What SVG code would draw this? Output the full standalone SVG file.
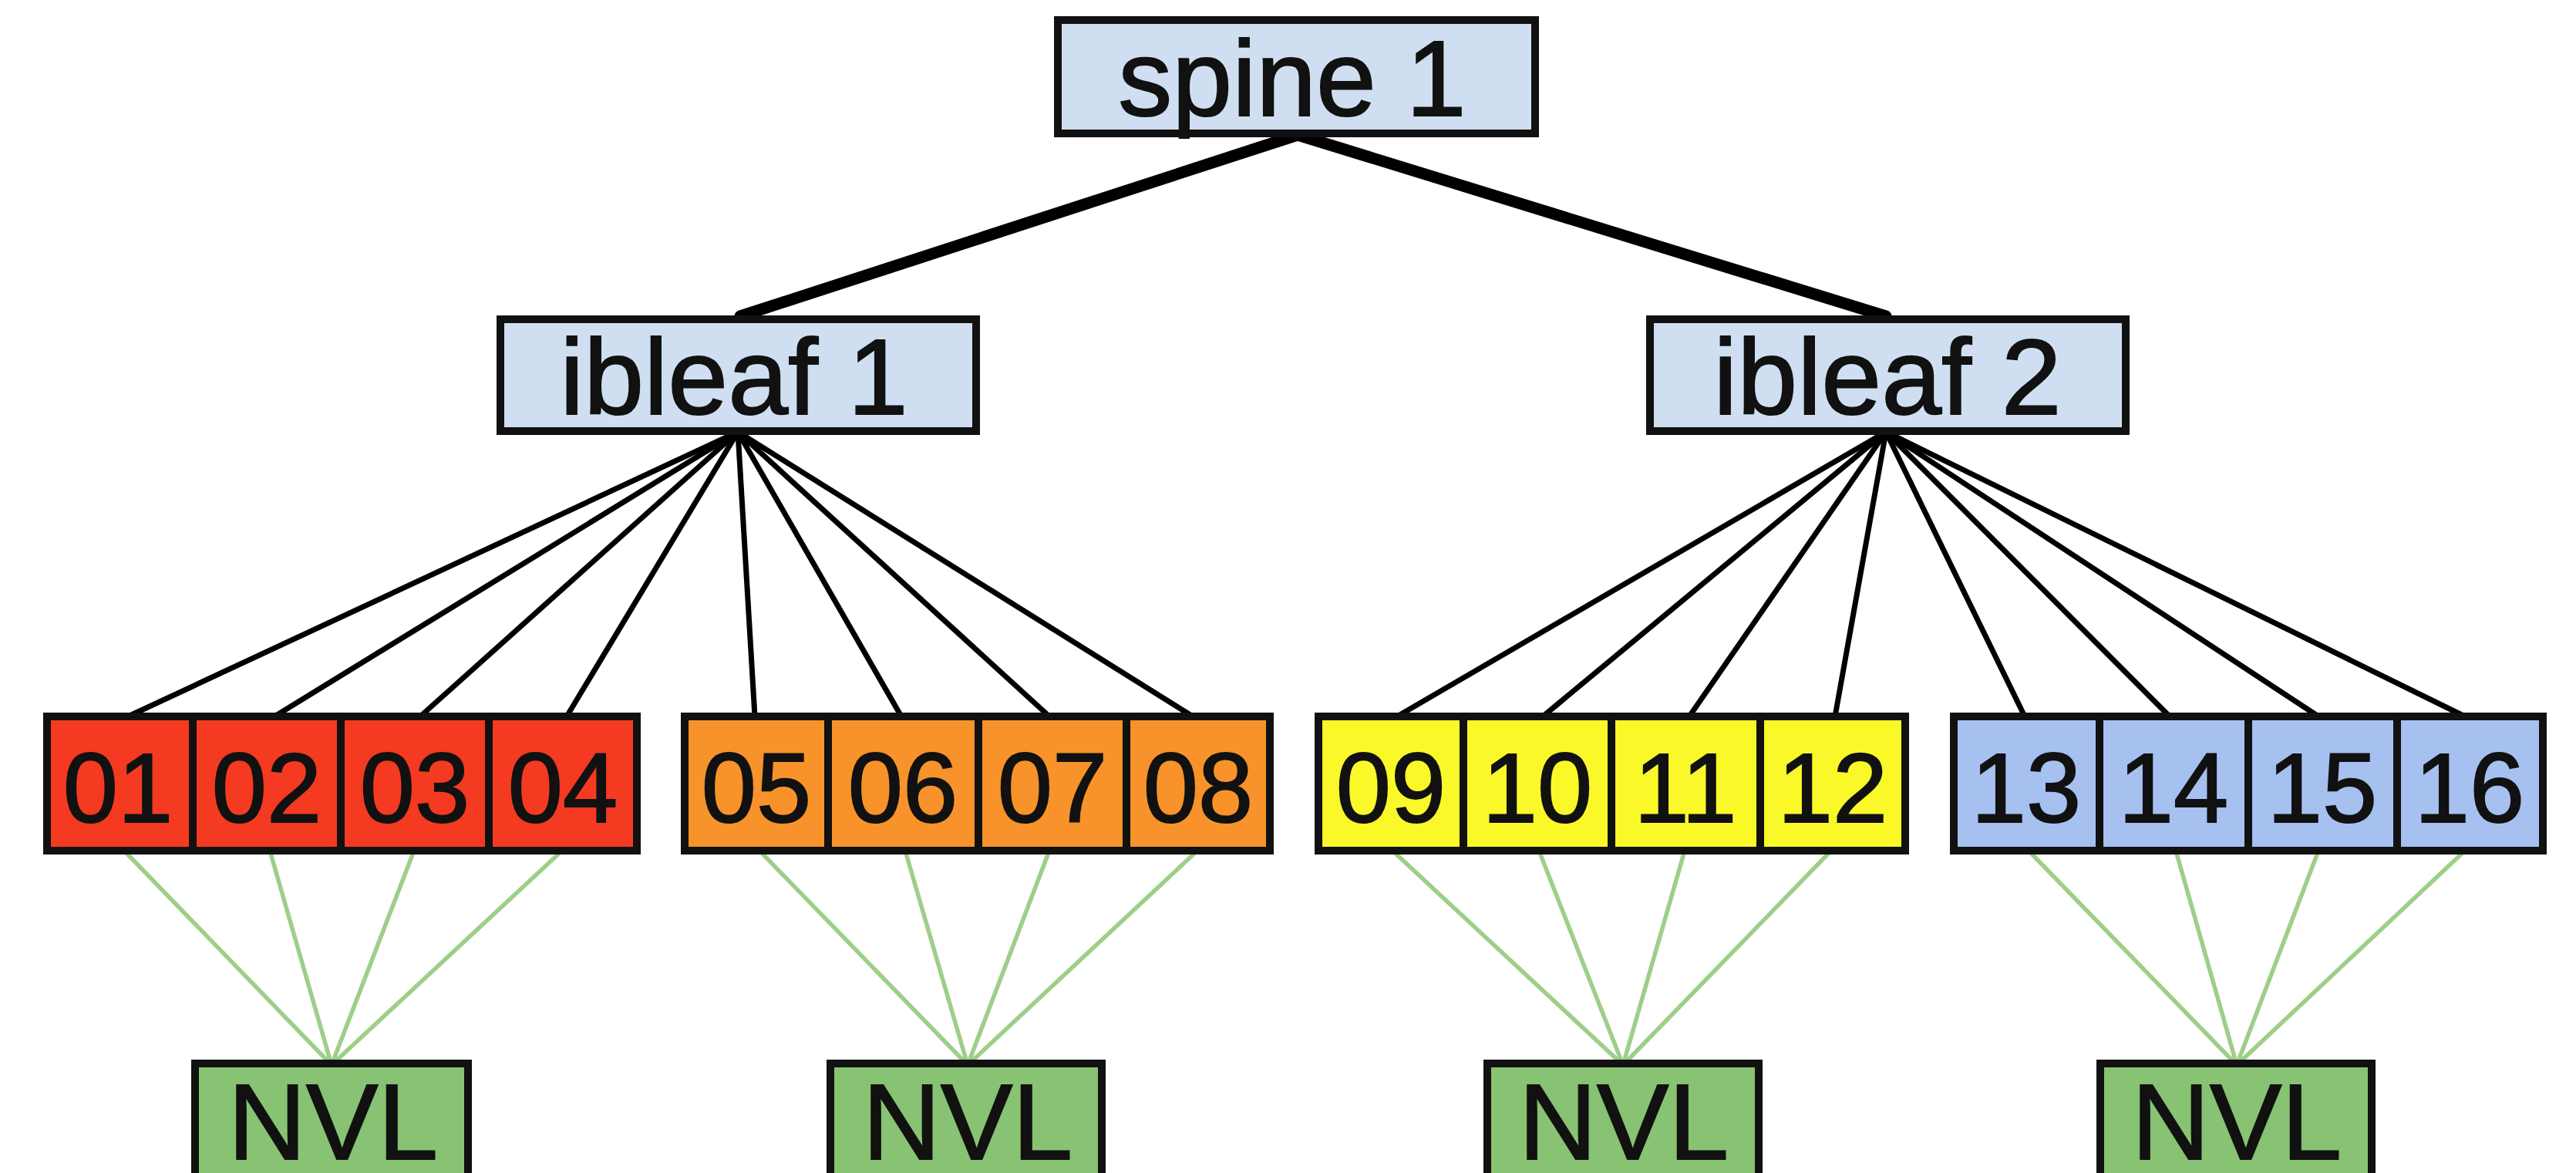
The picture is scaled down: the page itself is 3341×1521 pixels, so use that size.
<svg xmlns="http://www.w3.org/2000/svg" width="3341" height="1521" viewBox="0 0 3341 1521">
  <style>
    .box { stroke: #111; stroke-width: 10; stroke-linejoin: miter; }
    .sw { fill: #cfdff1; }
    .red { fill: #f43a20; }
    .org { fill: #f7932a; }
    .yel { fill: #fbf82a; }
    .blu { fill: #a6c0f0; }
    .nvl { fill: #88c273; }
    .lbl { font-family: "Liberation Sans", Arial, sans-serif; fill: #111; stroke: #111; stroke-width: 2; text-anchor: middle; }
    .big { font-size: 140px; }
    .num { font-size: 128px; }
    .trunk { stroke: #000; stroke-width: 15; stroke-linecap: round; fill: none; }
    .leafln { stroke: #000; stroke-width: 7; fill: none; }
    .nvlln { stroke: #9dcf88; stroke-width: 5.5; fill: none; }
  </style>
  <rect width="3341" height="1521" fill="#fff"/>

  <!-- connectors, drawn beneath the boxes -->
  <g id="connectors">
    <line class="trunk" x1="1683" y1="175" x2="960" y2="410"/>
    <line class="trunk" x1="1683" y1="175" x2="2446" y2="410"/>

    <g id="ibleaf1-links">
      <line class="leafln" x1="957" y1="560" x2="166" y2="929"/>
      <line class="leafln" x1="957" y1="560" x2="356" y2="929"/>
      <line class="leafln" x1="957" y1="560" x2="545" y2="929"/>
      <line class="leafln" x1="957" y1="560" x2="735" y2="929"/>
      <line class="leafln" x1="957" y1="560" x2="979" y2="929"/>
      <line class="leafln" x1="957" y1="560" x2="1169" y2="929"/>
      <line class="leafln" x1="957" y1="560" x2="1361" y2="929"/>
      <line class="leafln" x1="957" y1="560" x2="1547" y2="929"/>
    </g>
    <g id="ibleaf2-links">
      <line class="leafln" x1="2446" y1="560" x2="1812" y2="929"/>
      <line class="leafln" x1="2446" y1="560" x2="2001" y2="929"/>
      <line class="leafln" x1="2446" y1="560" x2="2191" y2="929"/>
      <line class="leafln" x1="2446" y1="560" x2="2380" y2="929"/>
      <line class="leafln" x1="2446" y1="560" x2="2626" y2="929"/>
      <line class="leafln" x1="2446" y1="560" x2="2814" y2="929"/>
      <line class="leafln" x1="2446" y1="560" x2="3007" y2="929"/>
      <line class="leafln" x1="2446" y1="560" x2="3197" y2="929"/>
    </g>

    <g id="nvl-links">
      <line class="nvlln" x1="161" y1="1103" x2="430" y2="1381"/>
      <line class="nvlln" x1="350" y1="1103" x2="430" y2="1381"/>
      <line class="nvlln" x1="537" y1="1103" x2="430" y2="1381"/>
      <line class="nvlln" x1="729" y1="1103" x2="430" y2="1381"/>

      <line class="nvlln" x1="985" y1="1103" x2="1255" y2="1381"/>
      <line class="nvlln" x1="1174" y1="1103" x2="1255" y2="1381"/>
      <line class="nvlln" x1="1361" y1="1103" x2="1255" y2="1381"/>
      <line class="nvlln" x1="1553" y1="1103" x2="1255" y2="1381"/>

      <line class="nvlln" x1="1806" y1="1103" x2="2105" y2="1381"/>
      <line class="nvlln" x1="1996" y1="1103" x2="2105" y2="1381"/>
      <line class="nvlln" x1="2185" y1="1103" x2="2105" y2="1381"/>
      <line class="nvlln" x1="2375" y1="1103" x2="2105" y2="1381"/>

      <line class="nvlln" x1="2631" y1="1103" x2="2901" y2="1381"/>
      <line class="nvlln" x1="2822" y1="1103" x2="2901" y2="1381"/>
      <line class="nvlln" x1="3007" y1="1103" x2="2901" y2="1381"/>
      <line class="nvlln" x1="3197" y1="1103" x2="2901" y2="1381"/>
    </g>
  </g>

  <!-- switches -->
  <g id="spine1">
    <rect class="box sw" x="1372" y="26" width="619" height="147"/>
    <text class="lbl big" x="1676" y="150" font-size="146">spine 1</text>
  </g>
  <g id="ibleaf1">
    <rect class="box sw" x="649" y="414" width="617" height="145"/>
    <text class="lbl big" x="952" y="537">ibleaf 1</text>
  </g>
  <g id="ibleaf2">
    <rect class="box sw" x="2140" y="414" width="617" height="145"/>
    <text class="lbl big" x="2448" y="537">ibleaf 2</text>
  </g>

  <!-- GPU hosts, group 1 -->
  <g id="host01"><rect class="box red" x="61" y="929" width="189" height="174"/><text class="lbl num" x="153" y="1066">01</text></g>
  <g id="host02"><rect class="box red" x="250" y="929" width="192" height="174"/><text class="lbl num" x="346" y="1066">02</text></g>
  <g id="host03"><rect class="box red" x="442" y="929" width="192" height="174"/><text class="lbl num" x="538" y="1066">03</text></g>
  <g id="host04"><rect class="box red" x="634" y="929" width="192" height="174"/><text class="lbl num" x="730" y="1066">04</text></g>

  <!-- group 2 -->
  <g id="host05"><rect class="box org" x="888" y="929" width="186" height="174"/><text class="lbl num" x="981" y="1066">05</text></g>
  <g id="host06"><rect class="box org" x="1074" y="929" width="195" height="174"/><text class="lbl num" x="1171" y="1066">06</text></g>
  <g id="host07"><rect class="box org" x="1269" y="929" width="192" height="174"/><text class="lbl num" x="1365" y="1066">07</text></g>
  <g id="host08"><rect class="box org" x="1461" y="929" width="186" height="174"/><text class="lbl num" x="1554" y="1066">08</text></g>

  <!-- group 3 -->
  <g id="host09"><rect class="box yel" x="1710" y="929" width="188" height="174"/><text class="lbl num" x="1804" y="1066">09</text></g>
  <g id="host10"><rect class="box yel" x="1898" y="929" width="192" height="174"/><text class="lbl num" x="1994" y="1066">10</text></g>
  <g id="host11"><rect class="box yel" x="2090" y="929" width="193" height="174"/><text class="lbl num" x="2186" y="1066">11</text></g>
  <g id="host12"><rect class="box yel" x="2283" y="929" width="188" height="174"/><text class="lbl num" x="2377" y="1066">12</text></g>

  <!-- group 4 -->
  <g id="host13"><rect class="box blu" x="2534" y="929" width="189" height="174"/><text class="lbl num" x="2628" y="1066">13</text></g>
  <g id="host14"><rect class="box blu" x="2723" y="929" width="193" height="174"/><text class="lbl num" x="2819" y="1066">14</text></g>
  <g id="host15"><rect class="box blu" x="2916" y="929" width="193" height="174"/><text class="lbl num" x="3012" y="1066">15</text></g>
  <g id="host16"><rect class="box blu" x="3109" y="929" width="189" height="174"/><text class="lbl num" x="3203" y="1066">16</text></g>

  <!-- NVLink switches (run off the bottom edge) -->
  <g id="nvl1"><rect class="box nvl" x="253" y="1379" width="354" height="200"/><text class="lbl big" x="432" y="1503">NVL</text></g>
  <g id="nvl2"><rect class="box nvl" x="1077" y="1379" width="352" height="200"/><text class="lbl big" x="1255" y="1503">NVL</text></g>
  <g id="nvl3"><rect class="box nvl" x="1929" y="1379" width="352" height="200"/><text class="lbl big" x="2106" y="1503">NVL</text></g>
  <g id="nvl4"><rect class="box nvl" x="2724" y="1379" width="352" height="200"/><text class="lbl big" x="2901" y="1503">NVL</text></g>
</svg>
